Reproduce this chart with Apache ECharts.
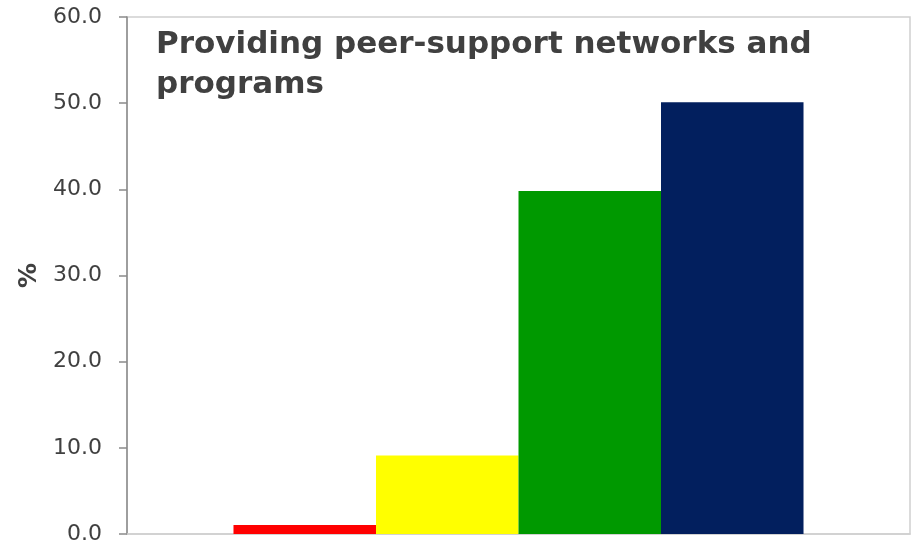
<!DOCTYPE html>
<html>
<head>
<meta charset="utf-8">
<script src="https://cdn.jsdelivr.net/npm/echarts@6/dist/echarts.min.js"></script>
<style>html,body{margin:0;padding:0;background:#fff}#c{width:919px;height:545px}</style>
</head>
<body>
<div id="c"></div>
<script>
const titleText = "Providing peer-support networks and\nprograms";
const categories = [""];
const seriesNames = ["A", "B", "C", "D"];
const seriesValues = [[1.05], [9.1], [39.8], [50.1]];
const seriesColors = ["#FF0000", "#FFFF00", "#009900", "#021F5E"];
const yTicks = { min: 0, max: 60, interval: 10 };

const FONT = '"DejaVu Sans", "Liberation Sans", Arial';
const chart = echarts.init(document.getElementById('c'));
chart.setOption({
  animation: false,
  backgroundColor: '#fff',
  title: {
    text: titleText,
    left: 151,
    top: 20,
    textStyle: { fontFamily: FONT, fontSize: 31, fontWeight: 'bold', color: '#404040', lineHeight: 40 }
  },
  grid: { left: 127, right: 9, top: 17, bottom: 11, show: true, borderColor: '#cfcfcf', borderWidth: 1.5 },
  xAxis: {
    type: 'category',
    data: categories,
    axisLine: { show: true, lineStyle: { color: '#cfcfcf', width: 1.5 } },
    axisTick: { show: false },
    axisLabel: { show: false }
  },
  yAxis: {
    type: 'value',
    min: yTicks.min, max: yTicks.max, interval: yTicks.interval,
    name: '%',
    nameLocation: 'middle',
    nameRotate: 90,
    nameGap: 83,
    nameTextStyle: { fontFamily: FONT, fontSize: 25, fontWeight: 'bold', color: '#404040' },
    axisLine: { show: true, lineStyle: { color: '#8a8a8a', width: 1.5 } },
    axisTick: { show: true, length: 8, lineStyle: { color: '#8a8a8a', width: 1.5 } },
    axisLabel: { fontFamily: FONT, fontSize: 22, color: '#404040', margin: 25, formatter: v => v.toFixed(1) },
    splitLine: { show: false }
  },
  series: seriesNames.map((n, i) => ({
    name: n,
    type: 'bar',
    data: seriesValues[i],
    itemStyle: { color: seriesColors[i] },
    barGap: '0%',
    barCategoryGap: '27.2%'
  }))
});
</script>
</body>
</html>
